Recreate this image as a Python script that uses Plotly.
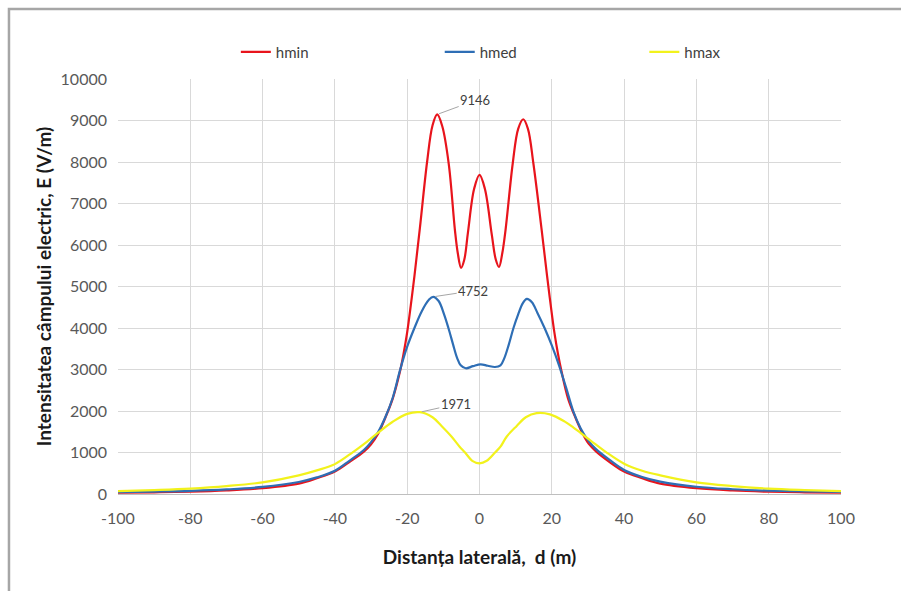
import plotly.graph_objects as go

# Lateral distance (m) and electric field strength E (V/m) for each conductor height
d_hmin = [-100, -90, -80, -70, -60, -50, -45, -40, -36, -32, -30, -28, -26, -24, -22, -21,
          -20, -19, -18, -16.5, -14.5, -13, -11.7, -10.3, -8.5, -6.8, -6, -5.1, -4.2, -3.2,
          -1.5, 0, 1.5, 3.4, 4.5, 5.4, 6.3, 7.2, 9.2, 10.7, 12.1, 13.4, 14.9, 17.2, 18.7,
          19.7, 20.7, 21.7, 22.7, 24.5, 26.5, 28.5, 30.3, 32.3, 36, 40, 45, 50, 60, 70, 80,
          90, 100]
e_hmin = [30, 40, 55, 85, 140, 250, 380, 540, 770, 1020, 1200, 1460, 1850, 2300, 2950, 3380,
          3900, 4550, 5250, 6400, 8000, 8880, 9146, 8860, 7950, 6360, 5800, 5450, 5650, 6300,
          7350, 7690, 7350, 6250, 5650, 5470, 5800, 6360, 7970, 8800, 9030, 8800, 7970, 6360, 5250,
          4550, 3900, 3380, 2950, 2300, 1850, 1460, 1200, 1020, 770, 540, 380, 250, 140, 85, 55,
          40, 30]

d_hmed = [-100, -90, -80, -70, -60, -50, -45, -40, -36, -32, -30, -28, -26, -24, -22, -20,
          -18, -16, -14, -12.8, -11.3, -9.8, -8.6, -7.3, -6.2, -5.2, -3.8, -1.8, 0.3, 2.3,
          4.3, 5.8, 6.9, 8.1, 9.4, 10.7, 12, 13.1, 14.5, 16, 18, 20, 22, 24, 26, 28, 30, 32,
          36, 40, 45, 50, 60, 70, 80, 90, 100]
e_hmed = [45, 58, 75, 110, 170, 290, 400, 560, 800, 1060, 1250, 1500, 1860, 2320, 2980, 3550,
          4000, 4400, 4680, 4752, 4650, 4330, 4000, 3600, 3280, 3100, 3030, 3080, 3125, 3090,
          3060, 3100, 3280, 3600, 4000, 4330, 4600, 4700, 4620, 4370, 4000, 3580, 3100, 2550,
          1980, 1580, 1300, 1100, 820, 580, 410, 300, 175, 115, 80, 60, 48]

d_hmax = [-100, -90, -80, -70, -60, -50, -45, -40, -35, -31, -28, -24, -20, -16.5, -13, -10.5,
          -7.7, -5.5, -4, -2, 0, 2, 4.3, 5.8, 7.5, 10.3, 12.8, 15.8, 19.5, 23.5, 26, 28, 31,
          35, 40, 45, 50, 60, 70, 80, 90, 100]
e_hmax = [70, 95, 130, 190, 280, 450, 570, 720, 1010, 1270, 1480, 1740, 1930, 1971, 1850, 1640,
          1380, 1140, 1000, 800, 740, 800, 1000, 1140, 1380, 1640, 1850, 1950, 1920, 1750, 1600,
          1470, 1270, 1010, 730, 560, 450, 280, 190, 130, 95, 70]

series_names = ["hmin", "hmed", "hmax"]
x_ticks = [-100, -80, -60, -40, -20, 0, 20, 40, 60, 80, 100]
x_tick_text = ["-100", "-80", "-60", "-40", "-20", "0", "20", "40", "60", "80", "100"]
y_ticks = [0, 1000, 2000, 3000, 4000, 5000, 6000, 7000, 8000, 9000, 10000]
y_tick_text = ["0", "1000", "2000", "3000", "4000", "5000", "6000", "7000", "8000", "9000", "10000"]

FONT = "Lato, 'Open Sans', sans-serif"
colors = ["#E8141C", "#2E6EB5", "#F2F21C"]
legends = ["legend", "legend2", "legend3"]

fig = go.Figure()
for name, d, e, c, lg in zip(series_names, [d_hmin, d_hmed, d_hmax],
                             [e_hmin, e_hmed, e_hmax], colors, legends):
    fig.add_trace(go.Scatter(
        x=d, y=e, name=name, mode="lines", legend=lg, showlegend=True,
        line=dict(color=c, width=2.2, shape="spline", smoothing=1.0),
    ))

# Peak value callouts
for d, e, ax, ay in [(d_hmin[e_hmin.index(max(e_hmin))], max(e_hmin), 38, -14),
                     (d_hmed[e_hmed.index(max(e_hmed))], max(e_hmed), 40, -6),
                     (d_hmax[e_hmax.index(max(e_hmax))], max(e_hmax), 36, -8)]:
    fig.add_annotation(
        x=d, y=e, text=str(e), showarrow=True, arrowhead=0, arrowwidth=1,
        arrowcolor="#A6A6A6", ax=ax, ay=ay, standoff=2,
        font=dict(family=FONT, size=13, color="#404040"),
    )

legend_common = dict(orientation="h", yanchor="middle", xanchor="left", y=1.065,
                     bgcolor="rgba(0,0,0,0)", font=dict(family=FONT, size=15, color="#404040"))

fig.update_layout(
    width=901, height=591,
    margin=dict(l=118, r=60, t=79, b=97),
    paper_bgcolor="white", plot_bgcolor="white",
    showlegend=True,
    font=dict(family=FONT, color="#595959"),
    legend=dict(x=0.163, **legend_common),
    legend2=dict(x=0.445, **legend_common),
    legend3=dict(x=0.728, **legend_common),
    xaxis=dict(
        range=[-100, 100], tickvals=x_ticks, ticktext=x_tick_text, showgrid=True,
        gridcolor="#D9D9D9", zeroline=False, showline=True, linecolor="#BFBFBF", linewidth=1,
        tickfont=dict(family=FONT, size=16, color="#595959"), ticklabelstandoff=10,
        title=dict(text="<b>Distanța laterală,  d (m)</b>", standoff=24,
                   font=dict(family=FONT, size=19, color="#1a1a1a")),
    ),
    yaxis=dict(
        range=[0, 10000], tickvals=y_ticks, ticktext=y_tick_text, showgrid=True,
        gridcolor="#D9D9D9", zeroline=False, showline=False,
        tickfont=dict(family=FONT, size=16, color="#595959"), ticklabelstandoff=10,
        title=dict(text="<b>Intensitatea câmpului electric, E (V/m)</b>", standoff=3,
                   font=dict(family=FONT, size=19, color="#1a1a1a")),
    ),
    shapes=[dict(type="rect", xref="paper", yref="paper",
                 x0=-0.1508, x1=1.095, y0=-0.26, y1=1.1687,
                 line=dict(color="#A6A6A6", width=2.5), layer="below")],
)

fig.write_html("out.html")
